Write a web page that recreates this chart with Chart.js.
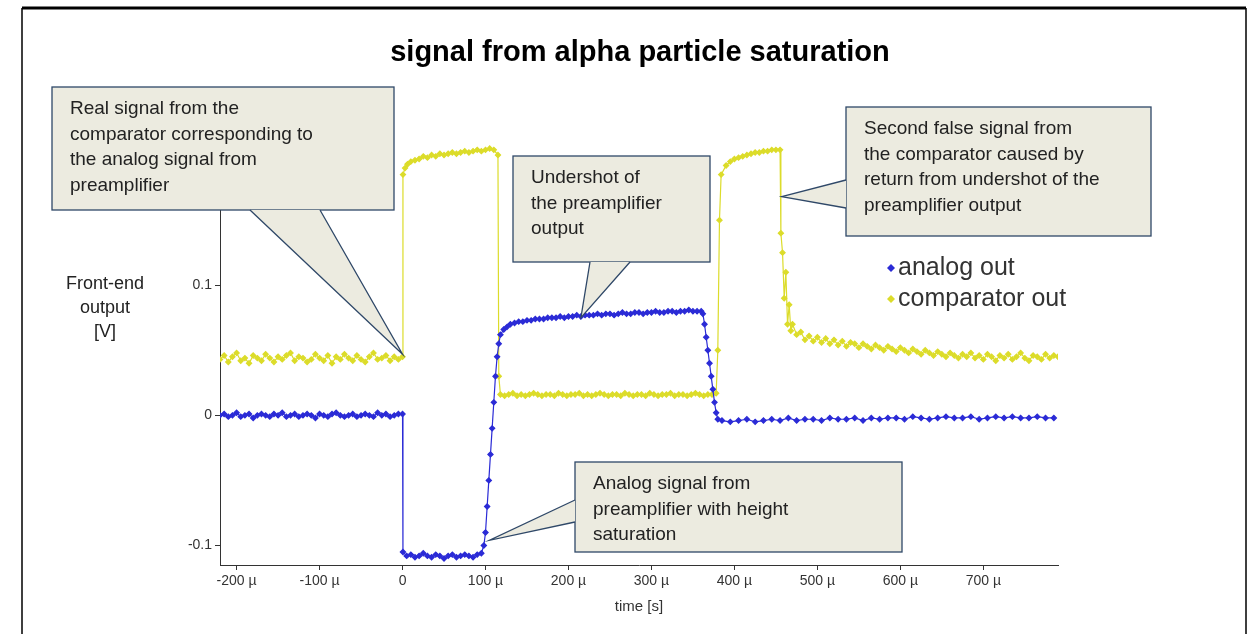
<!DOCTYPE html>
<html><head><meta charset="utf-8">
<script src="https://cdn.jsdelivr.net/npm/chart.js@4"></script>
<style>
html,body{margin:0;padding:0;background:#fff;}
#wrap{position:relative;width:1255px;height:634px;}
</style></head>
<body><div id="wrap"><canvas id="c" width="1255" height="634"></canvas></div>
<script>
/* ---------- données (temps en µs, tension en V) ---------- */
// analog out : segments [début, pas, valeurs]
const analogBase  = [0.000,0.001,-0.001,0.000,0.002,-0.001,0.000,0.001,-0.002,0.000,0.001,0.000,-0.001,0.001,0.000,0.002,-0.001,0.000,0.001,-0.001,0.000,0.001,0.000,-0.002,0.001,0.000,-0.001,0.001,0.002,0.000,-0.001,0.000,0.001,-0.001,0.000,0.001,0.000,-0.001,0.002,0.000,0.001,-0.001,0.000,0.001,0.001];
const analogSat   = [-0.108,-0.107,-0.109,-0.108,-0.106,-0.108,-0.109,-0.107,-0.108,-0.110,-0.108,-0.107,-0.109,-0.108,-0.107,-0.108,-0.109,-0.107,-0.106];
const analogRiseT = [0.5,98,100,102,104,106,108,110,112,114,116,118,122,126];
const analogRiseV = [-0.105,-0.100,-0.090,-0.070,-0.050,-0.030,-0.010,0.010,0.030,0.045,0.055,0.062,0.066,0.068];
const analogPlat  = [0.070,0.071,0.072,0.072,0.073,0.073,0.074,0.074,0.074,0.075,0.075,0.075,0.076,0.075,0.076,0.076,0.077,0.076,0.077,0.077,0.077,0.078,0.077,0.078,0.078,0.077,0.078,0.079,0.078,0.078,0.079,0.079,0.078,0.079,0.079,0.080,0.079,0.079,0.080,0.080,0.079,0.080,0.080,0.081,0.080,0.080,0.080];
const analogFall  = [0.078,0.070,0.060,0.050,0.040,0.030,0.020,0.010,0.002,-0.003];
const analogTail  = [-0.004,-0.005,-0.004,-0.003,-0.005,-0.004,-0.003,-0.004,-0.002,-0.004,-0.003,-0.003,-0.004,-0.002,-0.003,-0.003,-0.002,-0.004,-0.002,-0.003,-0.002,-0.002,-0.003,-0.001,-0.002,-0.003,-0.002,-0.001,-0.002,-0.002,-0.001,-0.003,-0.002,-0.001,-0.002,-0.001,-0.002,-0.002,-0.001,-0.002,-0.002];
// comparator out
const compBase  = [0.043,0.046,0.041,0.045,0.048,0.042,0.044,0.040,0.046,0.044,0.042,0.047,0.044,0.041,0.045,0.043,0.046,0.048,0.042,0.045,0.044,0.041,0.043,0.047,0.044,0.042,0.046,0.040,0.045,0.043,0.047,0.044,0.042,0.046,0.043,0.041,0.045,0.048,0.043,0.044,0.046,0.042,0.045,0.043,0.045];
const compJumpT = [0.5,3,6];
const compJumpV = [0.185,0.190,0.193];
const compHigh1 = [0.195,0.196,0.197,0.199,0.198,0.200,0.199,0.201,0.200,0.201,0.202,0.201,0.202,0.203,0.202,0.203,0.204,0.203,0.204,0.205,0.204];
const compDropT = [115,116];
const compDropV = [0.200,0.030];
const compLow   = [0.016,0.015,0.016,0.017,0.015,0.016,0.015,0.016,0.017,0.016,0.015,0.016,0.016,0.015,0.017,0.016,0.015,0.016,0.016,0.017,0.015,0.016,0.015,0.016,0.017,0.016,0.015,0.016,0.016,0.015,0.017,0.016,0.015,0.016,0.016,0.015,0.017,0.016,0.015,0.016,0.016,0.017,0.015,0.016,0.016,0.015,0.016,0.017,0.016,0.015,0.016,0.016,0.017];
const compRiseT = [380,382,384];
const compRiseV = [0.050,0.150,0.185];
const compHigh2 = [0.192,0.195,0.197,0.198,0.199,0.200,0.201,0.202,0.202,0.203,0.203,0.204,0.204,0.204];
const compRingT = [456,458,460,462,464,466,468,470];
const compRingV = [0.140,0.125,0.090,0.110,0.070,0.085,0.065,0.070];
const compTail  = [0.062,0.064,0.058,0.061,0.057,0.060,0.056,0.059,0.055,0.058,0.054,0.057,0.053,0.056,0.055,0.052,0.055,0.053,0.051,0.054,0.052,0.050,0.053,0.051,0.049,0.052,0.050,0.048,0.051,0.049,0.047,0.050,0.048,0.046,0.049,0.047,0.045,0.048,0.046,0.044,0.047,0.045,0.048,0.044,0.046,0.043,0.047,0.045,0.042,0.046,0.044,0.047,0.043,0.045,0.048,0.044,0.042,0.046,0.045,0.043,0.047,0.044,0.046,0.045];
const xTicks = [-200,-100,0,100,200,300,400,500,600,700];
const yTicks = [-0.1,0,0.1];

const seg = (t0,dt,vals)=>vals.map((y,i)=>({x:t0+i*dt, y}));
const pairs = (t,v)=>t.map((x,i)=>({x, y:v[i]}));
const analogPts = [].concat(seg(-220,5,analogBase), pairs(analogRiseT.slice(0,1),analogRiseV.slice(0,1)),
  seg(5,5,analogSat), pairs(analogRiseT.slice(1),analogRiseV.slice(1)), seg(130,5,analogPlat),
  seg(362,2,analogFall), seg(385,10,analogTail));
const compPts = [].concat(seg(-220,5,compBase), pairs(compJumpT,compJumpV), seg(10,5,compHigh1),
  pairs(compDropT,compDropV), seg(118,5,compLow), pairs(compRiseT,compRiseV), seg(390,5,compHigh2),
  pairs(compRingT,compRingV), seg(475,5,compTail));

const BLUE = "#2b2bd6", YEL = "#dcdc2a";
const FONT = "'Liberation Sans', Arial";

/* ---------- bulles d'annotation ---------- */
const callouts = [
  { box:[52,87,342,123], lines:["Real signal from the","comparator corresponding to","the analog signal from","preamplifier"], tip:[0,0.047], base:[[250,210],[320,210]] },
  { box:[513,156,197,106], lines:["Undershot of","the preamplifier","output"], tip:[215,0.075], base:[[590,262],[630,262]] },
  { box:[846,107,305,129], lines:["Second false signal from","the comparator caused by","return from undershot of the","preamplifier output"], tip:[457,0.168], base:[[846,180],[846,208]] },
  { box:[575,462,327,90], lines:["Analog signal from","preamplifier with height","saturation"], tip:[105,-0.096], base:[[575,500],[575,522]] }
];

const decor = {
  id:"decor",
  beforeDraw(ch){
    const c = ch.ctx; c.save();
    c.fillStyle="#fff"; c.fillRect(0,0,ch.width,ch.height);
    c.strokeStyle="#000"; c.lineWidth=3;
    c.beginPath(); c.moveTo(22,8); c.lineTo(1246,8); c.stroke();
    c.lineWidth=1.5;
    c.beginPath(); c.moveTo(22,8); c.lineTo(22,634); c.moveTo(1246,8); c.lineTo(1246,634); c.stroke();
    c.restore();
  },
  afterDraw(ch){
    const c = ch.ctx, xs = ch.scales.x, ys = ch.scales.y;
    c.save();
    c.fillStyle="#000"; c.font="bold 29px "+FONT; c.textAlign="center"; c.textBaseline="middle";
    c.fillText("signal from alpha particle saturation", 640, 53);
    c.font="18px "+FONT; c.fillStyle="#222";
    ["Front-end","output","[V]"].forEach((s,i)=>c.fillText(s,105,284+i*24));
    // légende
    c.textAlign="left"; c.font="25px "+FONT;
    [[BLUE,"analog out",268],[YEL,"comparator out",299]].forEach(([col,txt,y])=>{
      c.fillStyle=col; c.beginPath(); c.moveTo(891,y-4); c.lineTo(895,y); c.lineTo(891,y+4); c.lineTo(887,y); c.closePath(); c.fill();
      c.fillStyle="#333"; c.fillText(txt,898,y);
    });
    // bulles
    callouts.forEach(o=>{
      const [bx,by,bw,bh]=o.box;
      const tx=xs.getPixelForValue(o.tip[0]), ty=ys.getPixelForValue(o.tip[1]);
      c.fillStyle="#ecebe0"; c.strokeStyle="#2f4868"; c.lineWidth=1.3;
      c.fillRect(bx,by,bw,bh); c.strokeRect(bx,by,bw,bh);
      c.beginPath(); c.moveTo(o.base[0][0],o.base[0][1]); c.lineTo(tx,ty); c.lineTo(o.base[1][0],o.base[1][1]); c.closePath(); c.fill();
      c.beginPath(); c.moveTo(o.base[0][0],o.base[0][1]); c.lineTo(tx,ty); c.lineTo(o.base[1][0],o.base[1][1]); c.stroke();
      c.fillStyle="#222"; c.font="19px "+FONT; c.textBaseline="middle";
      o.lines.forEach((s,i)=>c.fillText(s,bx+18,by+22+i*25.5));
    });
    c.restore();
  }
};

new Chart(document.getElementById("c"),{
  type:"scatter",
  data:{ datasets:[
    { label:"analog out", data:analogPts, showLine:true, borderColor:BLUE, backgroundColor:BLUE, borderWidth:1.2, pointStyle:"rectRot", pointRadius:2.6 },
    { label:"comparator out", data:compPts, showLine:true, borderColor:YEL, backgroundColor:YEL, borderWidth:1.2, pointStyle:"rectRot", pointRadius:2.6 }
  ]},
  options:{
    responsive:false, animation:false, devicePixelRatio:1,
    layout:{ padding:{ left:150, right:197, top:90, bottom:14 } },
    plugins:{ legend:{display:false}, tooltip:{enabled:false} },
    scales:{
      x:{ type:"linear", min:-220, max:790, grid:{drawOnChartArea:false, color:"#333", tickLength:5},
          border:{color:"#333"},
          afterBuildTicks:s=>{ s.ticks = xTicks.map(v=>({value:v})); },
          afterFit:s=>{ s.height=55; },
          ticks:{ color:"#333", font:{size:14,family:FONT}, callback:v=>v===0?"0":v+" µ" },
          title:{ display:true, text:"time [s]", color:"#333", font:{size:15,family:FONT}, padding:{top:4} } },
      y:{ type:"linear", min:-0.115, max:0.25, grid:{drawOnChartArea:false, color:"#333", tickLength:5},
          border:{color:"#333"},
          afterBuildTicks:s=>{ s.ticks = yTicks.map(v=>({value:v})); },
          afterFit:s=>{ s.width=70; },
          ticks:{ color:"#333", font:{size:14,family:FONT}, callback:v=>String(Math.round(v*10)/10) } }
    }
  },
  plugins:[decor]
});
</script></body></html>
